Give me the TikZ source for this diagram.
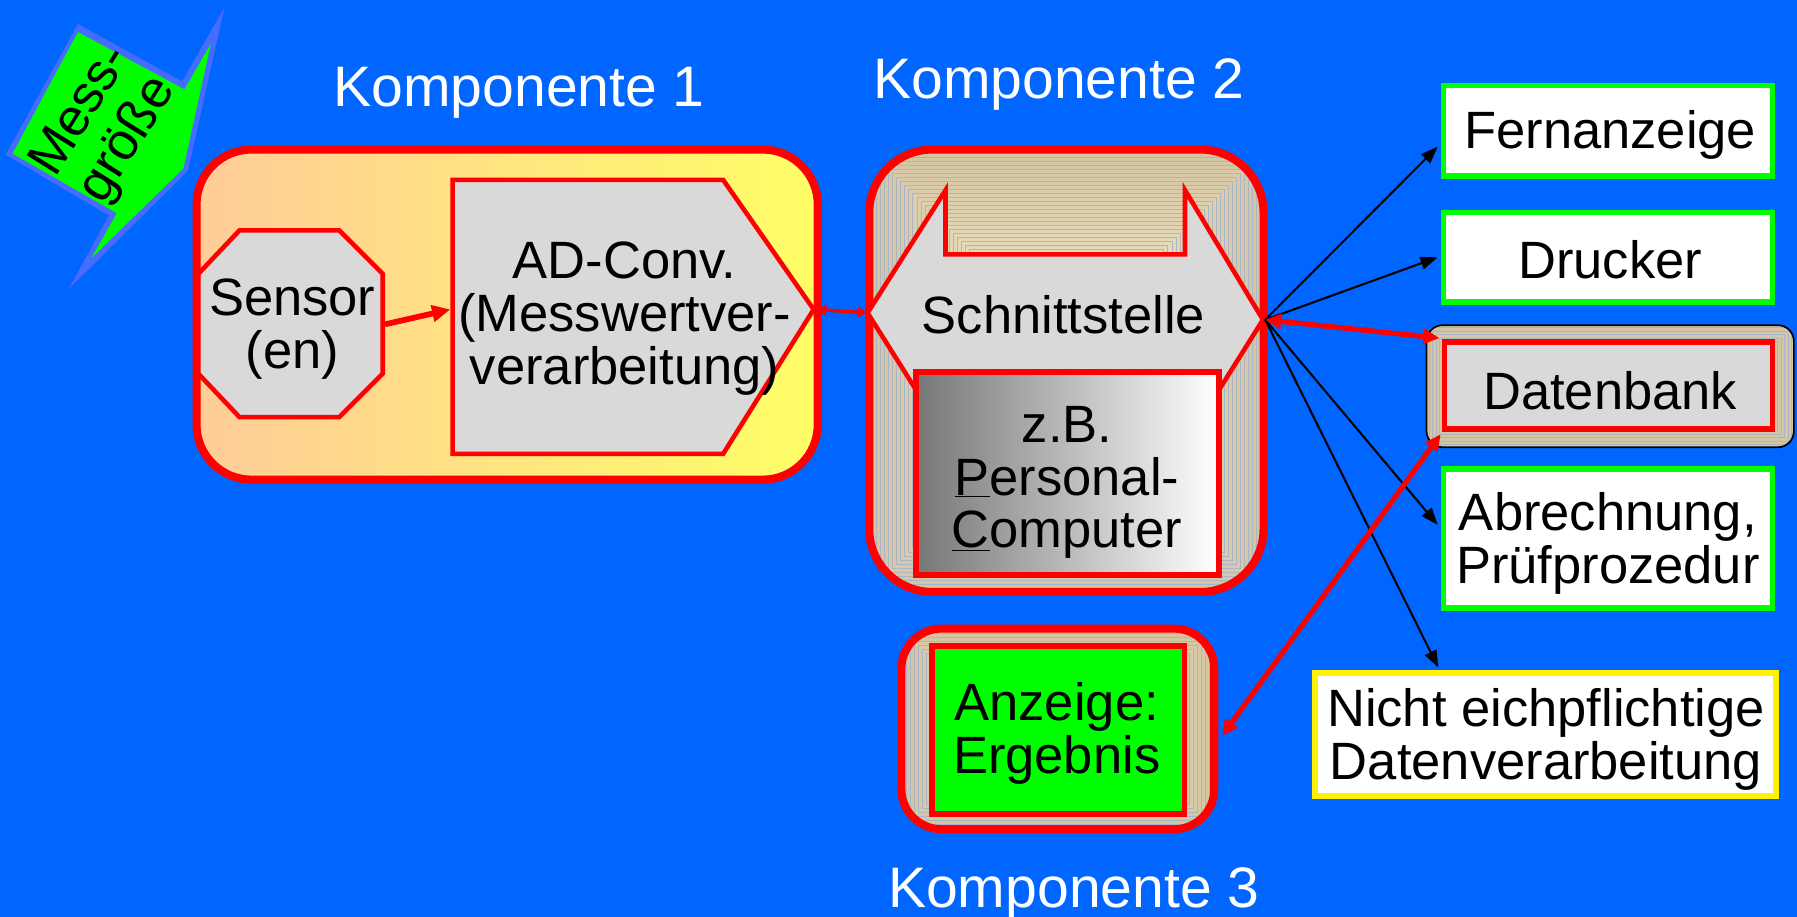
\documentclass[tikz,border=0pt]{standalone}
\usepackage{fontspec}
\setmainfont{Liberation Sans}
\usetikzlibrary{arrows.meta,calc}
\definecolor{bgblue}{RGB}{0,102,255}
\definecolor{mgborder}{RGB}{70,108,255}
\definecolor{mggreen}{RGB}{0,255,0}
\definecolor{boxgray}{RGB}{217,217,217}
\definecolor{peach}{RGB}{255,204,153}
\definecolor{lyellow}{RGB}{255,255,102}
\definecolor{tandark}{RGB}{212,198,162}
\definecolor{tanlight}{RGB}{238,224,192}
\definecolor{patline}{RGB}{170,182,200}
\definecolor{pcdark}{RGB}{119,119,119}
\begin{document}
\begin{tikzpicture}[x=1bp,y=-1bp,
  txt/.style={font=\fontsize{46}{46}\selectfont, align=center, text=black, inner sep=0pt},
  ttl/.style={font=\fontsize{50}{50}\selectfont, text=white, inner sep=0pt, anchor=base},
  outbox/.style={draw=mggreen, line width=5bp, fill=white, inner sep=0pt},
  redbox/.style={draw=red, line width=5bp, inner sep=0pt},
  bigframe/.style={draw=red, line width=7bp, inner sep=0pt},
  redshape/.style={draw=red, line width=4bp, fill=boxgray, line join=miter},
  blk/.style={draw=black, line width=1.8bp, -{Triangle[length=15bp,width=11bp]}},
  redarr/.style={draw=red, line width=4.5bp, {Triangle[length=14bp,width=13bp]}-{Triangle[length=14bp,width=13bp]}},
  patl/.style={draw=patline, line width=0.6bp}
]
\path[fill=bgblue,use as bounding box] (0,0) rectangle (1568,800);

% Messgroesse
\fill[mgborder] (68,21) -- (159,71) -- (196,6) -- (164,149) -- (60,252) -- (95,188) -- (5,135) -- cycle;
\fill[mggreen] (68,28) -- (161,78) -- (184,38) -- (160,147) -- (80,225) -- (102,186) -- (11,134) -- cycle;
\node[txt, rotate=58, font=\fontsize{46}{48}\selectfont] (mg) at (92,110) {Mess-\\größe};

% Komponente 1
\node[bigframe, rounded corners=48bp, left color=peach, right color=lyellow,
      minimum width=542bp, minimum height=288bp] (c1) at (442.5,274.5) {};
\draw[redshape] (209,201) -- (296,201) -- (334,239) -- (334,326) -- (296,364) -- (209,364) -- (173,326) -- (173,239) -- cycle;
\node[txt] (sensor) at (255,287) {Sensor\\(en)};
\draw[redshape] (395,157) -- (631,157) -- (710,270) -- (631,396) -- (395,396) -- cycle;
\node[txt] (ad) at (545,278) {AD-Conv.\\(Messwertver-\\verarbeitung)};
\coordinate (sensE) at (336,283);
\coordinate (adW) at (393,270);
\coordinate (adTip) at (712,270);
\draw[red, line width=5bp, -{Triangle[length=16bp,width=14bp]}] (sensE) -- (adW);

% Komponente 2
\begin{scope}
 \clip[rounded corners=55bp] (758.5,130.5) rectangle (1102.5,516.5);
 \fill[tandark] (758.5,130.5) rectangle (1102.5,516.5);
 \foreach \i in {0,...,28}{
   \pgfmathsetmacro\q{\i*3.4}
   \draw[patl, fill=tanlight!\q!tandark] (765+3.5*\i,137+3.5*\i) rectangle (1096-3.5*\i,510-3.5*\i);
 }
\end{scope}
\node[bigframe, rounded corners=55bp, minimum width=344bp, minimum height=386bp] (c2) at (930.5,323.5) {};
\draw[redshape] (757,273) -- (825,166) -- (825,222) -- (1034,222) -- (1034,166) -- (1102,279) -- (1055,354) -- (808,354) -- cycle;
\coordinate (stL) at (757,273);
\coordinate (stR) at (1104,279);
\node[txt, anchor=base] (st) at (928,291) {Schnittstelle};
\node[redbox, left color=pcdark, right color=white, minimum width=264bp, minimum height=177bp] (pc) at (931.5,413) {};
\node[txt] (pctext) at (931,421) {z.B.\\\underline{P}ersonal-\\\underline{C}omputer};
\draw[red, line width=3bp, {Triangle[length=9bp,width=9bp]}-{Triangle[length=9bp,width=9bp]}] (adTip) -- (stL);

% Komponente 3
\begin{scope}
 \clip[rounded corners=35bp] (786.5,548.5) rectangle (1059.5,723.5);
 \fill[tandark] (786.5,548.5) rectangle (1059.5,723.5);
 \foreach \i in {0,...,20}{
   \pgfmathsetmacro\q{\i*4}
   \draw[patl, fill=tanlight!\q!tandark] (791+3.5*\i,553+3.5*\i) rectangle (1055-3.5*\i,719-3.5*\i);
 }
\end{scope}
\node[bigframe, rounded corners=35bp, minimum width=273bp, minimum height=175bp] (c3) at (923,636) {};
\node[redbox, fill=mggreen, minimum width=220bp, minimum height=147bp] (anz) at (923.5,637) {};
\node[txt] (anztext) at (922,640) {Anzeige:\\Ergebnis};

% Titles
\node[ttl] (k1) at (453,93) {Komponente 1};
\node[ttl] (k2) at (924,86) {Komponente 2};
\node[ttl] (k3) at (937,792) {Komponente 3};

% Right column
\node[outbox, minimum width=287bp, minimum height=79bp] (fern) at (1403,114) {};
\node[txt, anchor=base] at (1405,130) {Fernanzeige};
\node[outbox, minimum width=287bp, minimum height=78bp] (druck) at (1403,224.5) {};
\node[txt, anchor=base] at (1405,243) {Drucker};

\begin{scope}
 \clip[rounded corners=14bp] (1244.75,283.75) rectangle (1565.25,390.25);
 \fill[tandark] (1244.75,283.75) rectangle (1565.25,390.25);
 \foreach \i in {0,...,12}{
   \draw[patl] (1247+3*\i,286+3*\i) rectangle (1563-3*\i,388-3*\i);
 }
\end{scope}
\node[draw=black, line width=1.5bp, rounded corners=14bp, minimum width=320.5bp, minimum height=106.5bp, inner sep=0pt] (dbout) at (1405,337) {};
\node[redbox, fill=boxgray, minimum width=286bp, minimum height=76bp] (db) at (1403.5,336.5) {};
\node[txt, anchor=base] at (1405,357) {Datenbank};

\node[outbox, minimum width=287bp, minimum height=121bp] (abr) at (1403,470) {};
\node[txt] at (1403,474) {Abrechnung,\\Prüfprozedur};
\node[outbox, draw=yellow, minimum width=402bp, minimum height=107bp] (nicht) at (1348.5,641) {};
\node[txt] at (1349,645) {Nicht eichpflichtige\\Datenverarbeitung};

% Connectors
\draw[blk] (stR) -- ($(fern.west)+(-2.5,14)$);
\draw[blk] (stR) -- ($(druck.west)+(-2.5,0)$);
\draw[blk] (stR) -- ($(abr.west)+(-2.5,-12)$);
\draw[blk] (stR) -- ($(nicht.north west)+(110,-2.5)$);
\draw[redarr] (stR) -- ($(db.north west)+(-2,-1)$);
\draw[redarr] ($(db.south west)+(-1,2)$) -- ($(c3.east)+(3.5,6)$);
\end{tikzpicture}
\end{document}
